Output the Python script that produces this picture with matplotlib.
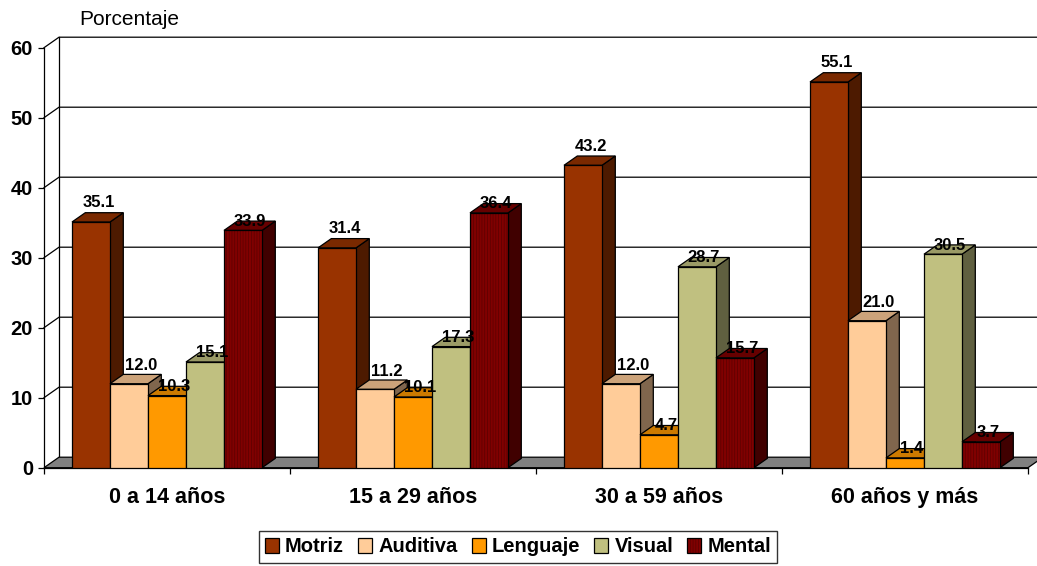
import matplotlib
matplotlib.use("Agg")
import matplotlib.pyplot as plt
from matplotlib.patches import Polygon, Patch
from matplotlib.legend_handler import HandlerTuple
from matplotlib.colors import to_rgb
import numpy as np

# ---- data -------------------------------------------------------------
categories = ["0 a 14 años", "15 a 29 años", "30 a 59 años", "60 años y más"]
series_names = ["Motriz", "Auditiva", "Lenguaje", "Visual", "Mental"]
motriz = [35.1, 31.4, 43.2, 55.1]
auditiva = [12.0, 11.2, 12.0, 21.0]
lenguaje = [10.3, 10.1, 4.7, 1.4]
visual = [15.1, 17.3, 28.7, 30.5]
mental = [33.9, 36.4, 15.7, 3.7]
y_ticks = [0, 10, 20, 30, 40, 50, 60]
y_title = "Porcentaje"

series_values = [motriz, auditiva, lenguaje, visual, mental]
series_colors = ["#993300", "#FFCC99", "#FF9900", "#C0C080", "#800000"]
series_hatch = [None, None, None, None, "||||||"]
# label placement above each bar (pixels): horizontal shift, vertical lift
label_dx_px = [8, 12, 7, 7, 7]
label_lift_px = [19, 18, 9, 9, 9]

plt.rcParams["font.family"] = ["Liberation Sans", "DejaVu Sans"]
plt.rcParams["hatch.color"] = "#5a0000"
plt.rcParams["hatch.linewidth"] = 0.5

W, H, DPI = 1037, 566, 100
fig = plt.figure(figsize=(W / DPI, H / DPI), dpi=DPI)
fig.patch.set_facecolor("white")

# front plane of the 3-D box, in pixels
left_px, right_px = 44, 1028
top_px, bottom_px = 47.7, 467.7
ax = fig.add_axes([left_px / W, 1 - bottom_px / H,
                   (right_px - left_px) / W, (bottom_px - top_px) / H])
n_cat = len(categories)
ymax = y_ticks[-1]
ax.set_xlim(0, n_cat)
ax.set_ylim(0, ymax)
ax.set_facecolor("none")

ux = n_cat / (right_px - left_px)   # data units per pixel (x)
uy = ymax / (bottom_px - top_px)    # data units per pixel (y)

wall_dx, wall_dy = 15 * ux, 10.5 * uy    # depth of the box
bar_dx, bar_dy = 13.3 * ux, 9.3 * uy     # depth of each bar
bar_w = 38 * ux
pad = (1 - len(series_names) * bar_w) / 2

LW = 0.9

# left wall and back wall with gridlines
ax.plot([wall_dx, wall_dx], [wall_dy, ymax + wall_dy], color="black",
        lw=LW, clip_on=False, zorder=1)
for v in y_ticks[1:]:
    ax.plot([0, wall_dx, n_cat + wall_dx + 1], [v, v + wall_dy, v + wall_dy],
            color="black", lw=LW, clip_on=False, zorder=1)

# floor
floor = Polygon([(0, 0), (n_cat, 0), (n_cat + wall_dx, wall_dy), (wall_dx, wall_dy)],
                closed=True, facecolor="#808080", edgecolor="black", lw=LW,
                clip_on=False, zorder=2)
ax.add_patch(floor)


def shade(color, f):
    r, g, b = to_rgb(color)
    return (r * f, g * f, b * f)


# bars, drawn left to right so each one hides its neighbour's side face
z = 3.0
for i in range(n_cat):
    for j, vals in enumerate(series_values):
        h = vals[i]
        x0 = i + pad + j * bar_w
        x1 = x0 + bar_w
        col = series_colors[j]
        side = Polygon([(x1, 0), (x1 + bar_dx, bar_dy), (x1 + bar_dx, h + bar_dy), (x1, h)],
                       closed=True, facecolor=shade(col, 0.5), edgecolor="black",
                       lw=LW, clip_on=False, zorder=z)
        top = Polygon([(x0, h), (x1, h), (x1 + bar_dx, h + bar_dy), (x0 + bar_dx, h + bar_dy)],
                      closed=True, facecolor=shade(col, 0.8), edgecolor="black",
                      lw=LW, clip_on=False, zorder=z + 0.001)
        ax.add_patch(side)
        ax.add_patch(top)
        if series_hatch[j]:
            ax.bar(x0, h, width=bar_w, align="edge", color=col, hatch=series_hatch[j],
                   linewidth=0, zorder=z + 0.002)
            ax.bar(x0, h, width=bar_w, align="edge", facecolor="none",
                   edgecolor="black", linewidth=LW, zorder=z + 0.003)
        else:
            ax.bar(x0, h, width=bar_w, align="edge", color=col,
                   edgecolor="black", linewidth=LW, zorder=z + 0.002)
        z += 0.01

# value labels
for i in range(n_cat):
    for j, vals in enumerate(series_values):
        x0 = i + pad + j * bar_w
        ax.annotate(f"{vals[i]:.1f}", xy=(x0 + bar_w / 2, vals[i]),
                    xytext=(label_dx_px[j] * 0.72, label_lift_px[j] * 0.72),
                    textcoords="offset points", ha="center", va="center",
                    fontsize=12, fontweight="bold", color="black",
                    zorder=20, annotation_clip=False)

# axes, ticks and labels
for s in ("top", "right"):
    ax.spines[s].set_visible(False)
for s in ("left", "bottom"):
    ax.spines[s].set_color("black")
    ax.spines[s].set_linewidth(LW)
    ax.spines[s].set_zorder(2.5)

ax.set_yticks(y_ticks)
ax.set_yticklabels([str(t) for t in y_ticks], fontsize=14.5, fontweight="bold")
ax.tick_params(axis="y", length=4.5, width=LW, pad=3.5, colors="black")

ax.set_xticks(np.arange(n_cat + 1))
ax.set_xticklabels([])
ax.set_xticks(np.arange(n_cat) + 0.5, minor=True)
ax.set_xticklabels(categories, minor=True, fontsize=15.5, fontweight="bold")
ax.tick_params(axis="x", which="major", length=4.5, width=LW, direction="out")
ax.tick_params(axis="x", which="minor", length=0, pad=14)

fig.text(79 / W, 1 - 25 / H, y_title, fontsize=15, ha="left", va="baseline")

# legend
handles = []
for name, col, hatch in zip(series_names, series_colors, series_hatch):
    if hatch:
        handles.append((Patch(facecolor=col, hatch=hatch, linewidth=0),
                        Patch(facecolor="none", edgecolor="black", linewidth=LW)))
    else:
        handles.append(Patch(facecolor=col, edgecolor="black", linewidth=LW))
leg = fig.legend(handles, series_names, loc="center",
                 bbox_to_anchor=(518 / W, 1 - 547 / H), bbox_transform=fig.transFigure,
                 ncol=5, prop={"weight": "bold", "size": 14.5}, frameon=True,
                 fancybox=False, handlelength=0.7, handleheight=0.7,
                 handletextpad=0.3, columnspacing=0.7, borderpad=0.3,
                 handler_map={tuple: HandlerTuple(ndivide=1)})
leg.get_frame().set_edgecolor("black")
leg.get_frame().set_linewidth(1.0)

fig.savefig("out.png", dpi=DPI, facecolor="white")
